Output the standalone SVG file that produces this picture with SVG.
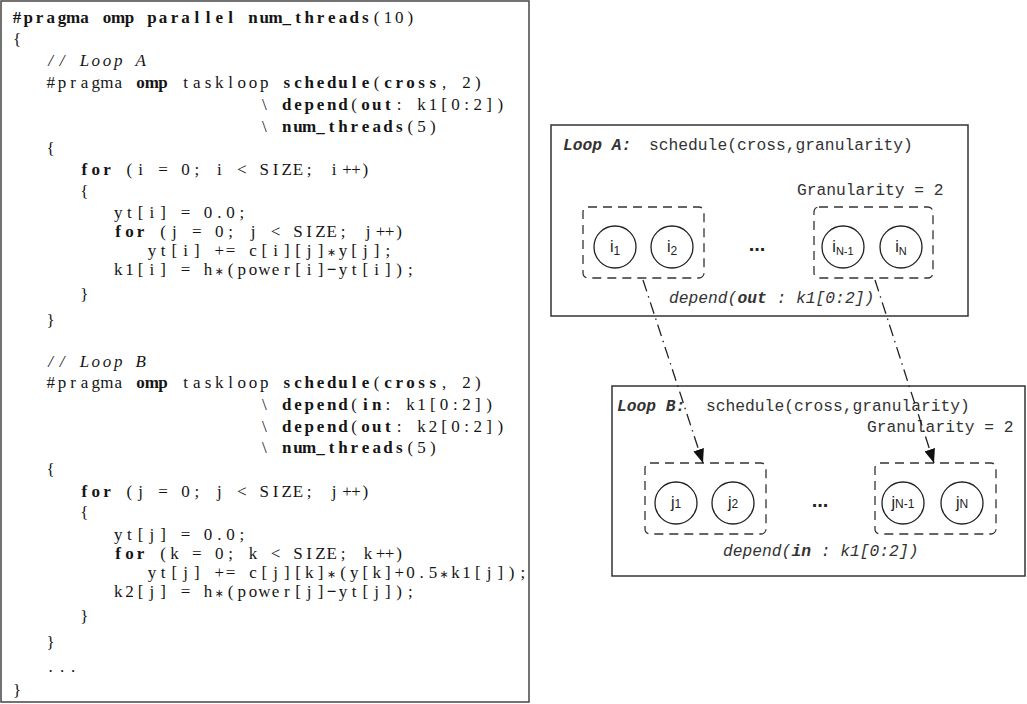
<svg xmlns="http://www.w3.org/2000/svg" width="1027" height="704" viewBox="0 0 1027 704">
<defs>
<style>
.code{font-family:"Liberation Serif",serif;font-size:17px;fill:#151515;text-anchor:middle}
.b{font-weight:bold}
.n{font-weight:normal}
.it{font-style:italic}
.ast{font-family:"DejaVu Sans",sans-serif;font-size:11px}
.mono{font-family:"Liberation Mono",monospace;font-size:16.3px;fill:#333;white-space:pre}
.bi{font-weight:bold;font-style:italic}
.box{fill:#fff;stroke:#333;stroke-width:1.5}
.grp{fill:none;stroke:#333;stroke-width:1.3;stroke-dasharray:9 6}
.node{fill:#fff;stroke:#222;stroke-width:1.3}
.lbl{font-family:"Liberation Sans",sans-serif;font-size:16px;fill:#222;text-anchor:middle}
.dots{font-family:"Liberation Sans",sans-serif;font-size:20px;font-weight:bold;fill:#222;text-anchor:middle}
.conn{fill:none;stroke:#222;stroke-width:1.3;stroke-dasharray:12 5 1.5 5}
</style>
<marker id="ah" viewBox="0 0 14 11" markerWidth="14" markerHeight="11" refX="14" refY="5.5" orient="auto" markerUnits="userSpaceOnUse"><path d="M0,0 L14,5.5 L0,11 Z" fill="#111"/></marker>
</defs>
<rect width="1027" height="704" fill="#fff"/>

<g id="code-panel">
<rect x="1" y="1" width="528" height="701" fill="#fff" stroke="#444" stroke-width="1.5"/>
<text class="code b" y="23"><tspan x="17 28.2 39.5 50.7 62 73.2 84.4">#pragma</tspan><tspan x="106.9 118.2 129.4">omp</tspan><tspan x="151.9 163.1 174.4 185.6 196.8 208.1 219.3 230.6">parallel</tspan><tspan x="253 264.3 275.5 286.8 298 309.2 320.5 331.7 343 354.2 365.4">num_threads</tspan><tspan class="n" x="376.7 387.9 399.2 410.4">(10)</tspan></text>
<text class="code" x="17" y="45">{</text>
<text class="code it" y="66"><tspan x="50.7 62">//</tspan><tspan x="84.4 95.7 106.9 118.2">Loop</tspan><tspan x="140.6">A</tspan></text>
<text class="code" y="88"><tspan x="50.7 62 73.2 84.4 95.7 106.9 118.2">#pragma</tspan><tspan class="b" x="140.6 151.9 163.1">omp</tspan><tspan x="185.6 196.8 208.1 219.3 230.6 241.8 253 264.3">taskloop</tspan><tspan class="b" x="286.8 298 309.2 320.5 331.7 343 354.2 365.4">schedule</tspan><tspan x="376.7">(</tspan><tspan class="b" x="387.9 399.2 410.4 421.6 432.9">cross</tspan><tspan x="444.1">,</tspan><tspan x="466.6 477.8">2)</tspan></text>
<text class="code" y="110"><tspan x="264.3">\</tspan><tspan class="b" x="286.8 298 309.2 320.5 331.7 343">depend</tspan><tspan x="354.2">(</tspan><tspan class="b" x="365.4 376.7 387.9">out</tspan><tspan x="399.2">:</tspan><tspan x="421.6 432.9 444.1 455.4 466.6 477.8 489.1 500.3">k1[0:2])</tspan></text>
<text class="code" y="132"><tspan x="264.3">\</tspan><tspan class="b" x="286.8 298 309.2 320.5 331.7 343 354.2 365.4 376.7 387.9 399.2">num_threads</tspan><tspan x="410.4 421.6 432.9">(5)</tspan></text>
<text class="code" x="50.7" y="154">{</text>
<text class="code" y="175"><tspan class="b" x="84.4 95.7 106.9">for</tspan><tspan x="129.4 140.6">(i</tspan><tspan x="163.1">=</tspan><tspan x="185.6 196.8">0;</tspan><tspan x="219.3">i</tspan><tspan x="241.8">&lt;</tspan><tspan x="264.3 275.5 286.8 298 309.2">SIZE;</tspan><tspan x="334 347 356 365.4">i++)</tspan></text>
<text class="code" x="84.4" y="197">{</text>
<text class="code" y="218"><tspan x="118.2 129.4 140.6 151.9 163.1">yt[i]</tspan><tspan x="185.6">=</tspan><tspan x="208.1 219.3 230.6 241.8">0.0;</tspan></text>
<text class="code" y="237"><tspan class="b" x="118.2 129.4 140.6">for</tspan><tspan x="163.1 174.4">(j</tspan><tspan x="196.8">=</tspan><tspan x="219.3 230.6">0;</tspan><tspan x="253">j</tspan><tspan x="275.5">&lt;</tspan><tspan x="298 309.2 320.5 331.7 343">SIZE;</tspan><tspan x="368 380.5 389.5 399.2">j++)</tspan></text>
<text class="code" y="256"><tspan x="151.9 163.1 174.4 185.6 196.8">yt[i]</tspan><tspan x="219.3 230.6">+=</tspan><tspan x="253 264.3 275.5 286.8 298 309.2 320.5">c[i][j]</tspan><tspan class="ast" x="331.7">∗</tspan><tspan x="343 354.2 365.4 376.7 387.9">y[j];</tspan></text>
<text class="code" y="275"><tspan x="118.2 129.4 140.6 151.9 163.1">k1[i]</tspan><tspan x="185.6">=</tspan><tspan x="208.1">h</tspan><tspan class="ast" x="219.3">∗</tspan><tspan x="230.6 241.8 253 264.3 275.5 286.8 298 309.2 320.5">(power[i]</tspan><tspan class="b" x="331.7">−</tspan><tspan x="343 354.2 365.4 376.7 387.9 399.2 410.4">yt[i]);</tspan></text>
<text class="code" x="84.4" y="300">}</text>
<text class="code" x="50.7" y="326">}</text>
<text class="code it" y="367"><tspan x="50.7 62">//</tspan><tspan x="84.4 95.7 106.9 118.2">Loop</tspan><tspan x="140.6">B</tspan></text>
<text class="code" y="388"><tspan x="50.7 62 73.2 84.4 95.7 106.9 118.2">#pragma</tspan><tspan class="b" x="140.6 151.9 163.1">omp</tspan><tspan x="185.6 196.8 208.1 219.3 230.6 241.8 253 264.3">taskloop</tspan><tspan class="b" x="286.8 298 309.2 320.5 331.7 343 354.2 365.4">schedule</tspan><tspan x="376.7">(</tspan><tspan class="b" x="387.9 399.2 410.4 421.6 432.9">cross</tspan><tspan x="444.1">,</tspan><tspan x="466.6 477.8">2)</tspan></text>
<text class="code" y="410"><tspan x="264.3">\</tspan><tspan class="b" x="286.8 298 309.2 320.5 331.7 343">depend</tspan><tspan x="354.2">(</tspan><tspan class="b" x="365.4 376.7">in</tspan><tspan x="387.9">:</tspan><tspan x="410.4 421.6 432.9 444.1 455.4 466.6 477.8 489.1">k1[0:2])</tspan></text>
<text class="code" y="432"><tspan x="264.3">\</tspan><tspan class="b" x="286.8 298 309.2 320.5 331.7 343">depend</tspan><tspan x="354.2">(</tspan><tspan class="b" x="365.4 376.7 387.9">out</tspan><tspan x="399.2">:</tspan><tspan x="421.6 432.9 444.1 455.4 466.6 477.8 489.1 500.3">k2[0:2])</tspan></text>
<text class="code" y="453"><tspan x="264.3">\</tspan><tspan class="b" x="286.8 298 309.2 320.5 331.7 343 354.2 365.4 376.7 387.9 399.2">num_threads</tspan><tspan x="410.4 421.6 432.9">(5)</tspan></text>
<text class="code" x="50.7" y="475">{</text>
<text class="code" y="497"><tspan class="b" x="84.4 95.7 106.9">for</tspan><tspan x="129.4 140.6">(j</tspan><tspan x="163.1">=</tspan><tspan x="185.6 196.8">0;</tspan><tspan x="219.3">j</tspan><tspan x="241.8">&lt;</tspan><tspan x="264.3 275.5 286.8 298 309.2">SIZE;</tspan><tspan x="334 347 356 365.4">j++)</tspan></text>
<text class="code" x="84.4" y="518">{</text>
<text class="code" y="540"><tspan x="118.2 129.4 140.6 151.9 163.1">yt[j]</tspan><tspan x="185.6">=</tspan><tspan x="208.1 219.3 230.6 241.8">0.0;</tspan></text>
<text class="code" y="559"><tspan class="b" x="118.2 129.4 140.6">for</tspan><tspan x="163.1 174.4">(k</tspan><tspan x="196.8">=</tspan><tspan x="219.3 230.6">0;</tspan><tspan x="253">k</tspan><tspan x="275.5">&lt;</tspan><tspan x="298 309.2 320.5 331.7 343">SIZE;</tspan><tspan x="368 380.5 389.5 399.2">k++)</tspan></text>
<text class="code" y="578"><tspan x="151.9 163.1 174.4 185.6 196.8">yt[j]</tspan><tspan x="219.3 230.6">+=</tspan><tspan x="253 264.3 275.5 286.8 298 309.2 320.5">c[j][k]</tspan><tspan class="ast" x="331.7">∗</tspan><tspan x="343 354.2 365.4 376.7 387.9 399.2 410.4 421.6 432.9">(y[k]+0.5</tspan><tspan class="ast" x="444.1">∗</tspan><tspan x="455.4 466.6 477.8 489.1 500.3 511.6 522.8">k1[j]);</tspan></text>
<text class="code" y="597"><tspan x="118.2 129.4 140.6 151.9 163.1">k2[j]</tspan><tspan x="185.6">=</tspan><tspan x="208.1">h</tspan><tspan class="ast" x="219.3">∗</tspan><tspan x="230.6 241.8 253 264.3 275.5 286.8 298 309.2 320.5">(power[j]</tspan><tspan class="b" x="331.7">−</tspan><tspan x="343 354.2 365.4 376.7 387.9 399.2 410.4">yt[j]);</tspan></text>
<text class="code" x="84.4" y="622">}</text>
<text class="code" x="50.7" y="648">}</text>
<text class="code" y="672"><tspan x="50.7 62 73.2">...</tspan></text>
<text class="code" x="17" y="696">}</text>
</g>

<g id="loopA-box">
<rect class="box" x="551" y="125" width="417" height="191"/>
<text class="mono" y="150"><tspan class="bi" x="563">Loop A:</tspan><tspan x="649">schedule(cross,granularity)</tspan></text>
<text class="mono" x="797" y="195">Granularity = 2</text>
<text class="mono it" x="669" y="303">depend(<tspan class="bi">out</tspan> : k1[0:2])</text>
<text class="dots" x="757" y="251">...</text>
</g>
<g id="groupA1"><rect class="grp" x="583" y="207" width="121" height="71" rx="5"/></g>
<g id="groupA2"><rect class="grp" x="814" y="207" width="119" height="71" rx="5"/></g>
<g id="node-i1"><circle class="node" cx="615" cy="247" r="21"/><text class="lbl" x="615" y="252">i<tspan font-size="12" dy="3">1</tspan></text></g>
<g id="node-i2"><circle class="node" cx="672" cy="247" r="21"/><text class="lbl" x="672" y="252">i<tspan font-size="12" dy="3">2</tspan></text></g>
<g id="node-iN-1"><circle class="node" cx="843" cy="247" r="21"/><text class="lbl" x="843" y="252">i<tspan font-size="11" dy="3">N-1</tspan></text></g>
<g id="node-iN"><circle class="node" cx="901" cy="247" r="21"/><text class="lbl" x="901" y="252">i<tspan font-size="11" dy="3">N</tspan></text></g>

<g id="loopB-box">
<rect class="box" x="612" y="386" width="413" height="190"/>
<text class="mono" y="411"><tspan class="bi" x="617">Loop B:</tspan><tspan x="706">schedule(cross,granularity)</tspan></text>
<text class="mono" x="867" y="432">Granularity = 2</text>
<text class="mono it" x="723" y="556">depend(<tspan class="bi">in</tspan> : k1[0:2])</text>
<text class="dots" x="820" y="507">...</text>
</g>
<g id="groupB1"><rect class="grp" x="645" y="463" width="121" height="71" rx="5"/></g>
<g id="groupB2"><rect class="grp" x="875" y="463" width="121" height="71" rx="5"/></g>
<g id="node-j1"><circle class="node" cx="676" cy="503" r="21"/><text class="lbl" x="676" y="508">j<tspan font-size="12">1</tspan></text></g>
<g id="node-j2"><circle class="node" cx="733" cy="503" r="21"/><text class="lbl" x="733" y="508">j<tspan font-size="12">2</tspan></text></g>
<g id="node-jN-1"><circle class="node" cx="903" cy="503" r="21"/><text class="lbl" x="903" y="508">j<tspan font-size="12">N-1</tspan></text></g>
<g id="node-jN"><circle class="node" cx="962" cy="503" r="21"/><text class="lbl" x="962" y="508">j<tspan font-size="12">N</tspan></text></g>

<g id="connectors">
<line class="conn" x1="643" y1="280" x2="703" y2="463" marker-end="url(#ah)"/>
<line class="conn" x1="875" y1="280" x2="934" y2="463" marker-end="url(#ah)"/>
</g>
</svg>
